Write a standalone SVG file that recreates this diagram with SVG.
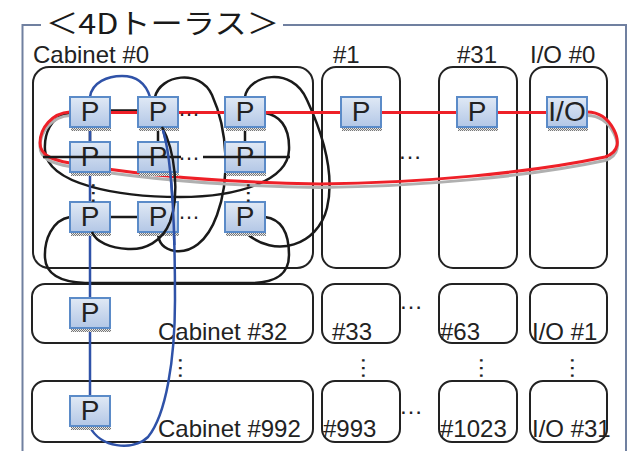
<svg xmlns="http://www.w3.org/2000/svg" xmlns:xlink="http://www.w3.org/1999/xlink" width="628" height="451" viewBox="0 0 628 451">
<defs>
<linearGradient id="pg" x1="0" y1="0" x2="0" y2="1">
<stop offset="0" stop-color="#e0e9f5"/>
<stop offset="1" stop-color="#b3c7e6"/>
</linearGradient>
<pattern id="hatch" width="2" height="2" patternUnits="userSpaceOnUse">
<rect width="2" height="2" fill="#e8e8e8"/>
<rect x="0" y="0" width="1" height="1" fill="#777"/>
<rect x="1" y="1" width="1" height="1" fill="#777"/>
</pattern>
<clipPath id="midclip"><rect x="150" y="130" width="50" height="115"/></clipPath>
<path id="bluepath" d="M 90 97 C 92 82, 108 76, 122 76 C 138 76, 146 84, 150 97 L 162 127 C 170 150, 175 200, 175 300 C 175 360, 166 415, 148 437 C 132 452, 100 447, 90 427 Z"/>
<path id="redpath" d="M 70 112 C 52 113, 40 128, 40 143 C 40 155, 52 160, 70 163 C 120 172, 200 182, 320 184 C 420 183, 530 173, 605 157 C 620 152, 619 140, 614 130 C 608 118, 598 112, 587 112"/>
</defs>
<style>
.frame{fill:none;stroke:#7080a0;stroke-width:2}
.title{font-family:"Noto Sans CJK JP","Noto Sans",sans-serif;font-size:28px;fill:#1a1a1a}
.cab{fill:none;stroke:#222;stroke-width:2}
.lbl{font-family:"Liberation Sans",Arial,sans-serif;font-size:24px;fill:#222}
.pbox{fill:url(#pg);stroke:#5b8bc8;stroke-width:2}
.sh{fill:url(#hatch)}
.pt{font-family:"Liberation Sans",Arial,sans-serif;font-size:28px;fill:#222;text-anchor:middle}
.blk{fill:none;stroke:#1a1a1a;stroke-width:2.5}
.red{fill:none;stroke:#ee2028;stroke-width:3}
.redsh{fill:none;stroke:url(#hatch);stroke-width:3}
.blue{fill:none;stroke:#2f52a8;stroke-width:2.5}
.dots{font-family:"Liberation Sans",Arial,sans-serif;font-size:24px;fill:#222}
.dots2{font-family:"Liberation Sans",Arial,sans-serif;font-size:22px;fill:#222}
</style>
<rect width="628" height="451" fill="#fff"/>
<g id="frame">
<path class="frame" d="M 41 25 H 22.5 V 451 M 283 25 H 626 V 451"/>
<text class="title" x="46" y="34" textLength="233" lengthAdjust="spacingAndGlyphs">＜4Dトーラス＞</text>
</g>
<g id="cabinets">
<g id="cab0"><rect class="cab" x="33" y="67" width="280" height="201" rx="16"/><text class="lbl" x="33" y="63">Cabinet #0</text></g>
<g id="cab1"><rect class="cab" x="322" y="67" width="78" height="201" rx="14"/><text class="lbl" x="333" y="63">#1</text></g>
<g id="cab31"><rect class="cab" x="439" y="67" width="78" height="201" rx="14"/><text class="lbl" x="457" y="63">#31</text></g>
<g id="io0"><rect class="cab" x="530" y="67" width="77" height="201" rx="14"/><text class="lbl" x="530" y="63">I/O #0</text></g>
<g id="cab32"><rect class="cab" x="32" y="284" width="281" height="59" rx="13"/><text class="lbl" x="158" y="340">Cabinet #32</text></g>
<g id="cab33"><rect class="cab" x="322" y="284" width="78" height="59" rx="13"/><text class="lbl" x="332" y="340">#33</text></g>
<g id="cab63"><rect class="cab" x="439" y="284" width="78" height="59" rx="13"/><text class="lbl" x="440" y="340">#63</text></g>
<g id="io1"><rect class="cab" x="530" y="284" width="77" height="59" rx="13"/><text class="lbl" x="532" y="340">I/O #1</text></g>
<g id="cab992"><rect class="cab" x="32" y="381" width="281" height="61" rx="13"/><text class="lbl" x="158" y="437">Cabinet #992</text></g>
<g id="cab993"><rect class="cab" x="322" y="381" width="78" height="61" rx="13"/><text class="lbl" x="323" y="437">#993</text></g>
<g id="cab1023"><rect class="cab" x="439" y="381" width="78" height="61" rx="13"/><text class="lbl" x="440" y="437">#1023</text></g>
<g id="io31"><rect class="cab" x="530" y="381" width="77" height="61" rx="13"/><text class="lbl" x="532" y="437">I/O #31</text></g>
</g>
<g id="connectors">
<path class="blk" d="M 110 110.5 H 138 M 90 127 V 142 M 158 127 V 142 M 245 127 V 142 M 110 217 H 138"/>
<path class="blk" d="M 70 113 C 50 116, 44 135, 45 150 C 47 185, 120 197, 180 197 C 240 197, 288 180, 289 150 C 290 125, 278 115, 265 113"/>
<path class="blk" d="M 70 217 C 52 220, 44 240, 45 258 C 46 275, 62 282, 85 283 L 250 283 C 275 283, 289 275, 289 255 C 289 230, 280 219, 265 217"/>
<path class="blk" d="M 155 97 C 160 75, 200 68, 212 95 C 228 130, 230 180, 217 215 C 207 243, 190 253, 175 251 C 163 249, 158 242, 158 232"/>
<path class="blk" d="M 245 97 C 248 75, 292 65, 307 100 C 320 128, 336 170, 327 208 C 318 245, 275 260, 245 232"/>
<use href="#bluepath" class="blue"/>
<use href="#redpath" class="redsh" transform="translate(0,3.5)"/>
<use href="#redpath" class="red"/>
<path class="red" d="M 110 112.5 H 547"/>
</g>
<g id="nodes">
<g id="p00"><rect class="sh" x="71" y="127" width="40" height="4"/><rect class="pbox" x="70" y="97" width="40" height="30"/><text class="pt" x="90" y="121">P</text></g>
<g id="p01"><rect class="sh" x="139" y="127" width="40" height="4"/><rect class="pbox" x="138" y="97" width="40" height="30"/><text class="pt" x="158" y="121">P</text></g>
<g id="p02"><rect class="sh" x="226" y="127" width="40" height="4"/><rect class="pbox" x="225" y="97" width="40" height="30"/><text class="pt" x="245" y="121">P</text></g>
<g id="p10"><rect class="sh" x="71" y="172" width="40" height="4"/><rect class="pbox" x="70" y="142" width="40" height="30"/><text class="pt" x="90" y="166">P</text></g>
<g id="p11"><rect class="sh" x="139" y="172" width="40" height="4"/><rect class="pbox" x="138" y="142" width="40" height="30"/><text class="pt" x="158" y="166">P</text></g>
<g id="p12"><rect class="sh" x="226" y="172" width="40" height="4"/><rect class="pbox" x="225" y="142" width="40" height="30"/><text class="pt" x="245" y="166">P</text></g>
<g id="p20"><rect class="sh" x="71" y="232" width="40" height="4"/><rect class="pbox" x="70" y="202" width="40" height="30"/><text class="pt" x="90" y="226">P</text></g>
<g id="p21"><rect class="sh" x="139" y="232" width="40" height="4"/><rect class="pbox" x="138" y="202" width="40" height="30"/><text class="pt" x="158" y="226">P</text></g>
<g id="p22"><rect class="sh" x="226" y="232" width="40" height="4"/><rect class="pbox" x="225" y="202" width="40" height="30"/><text class="pt" x="245" y="226">P</text></g>
<g id="p1"><rect class="sh" x="342" y="127" width="40" height="4"/><rect class="pbox" x="341" y="97" width="40" height="30"/><text class="pt" x="361" y="121">P</text></g>
<g id="p31"><rect class="sh" x="458" y="127" width="40" height="4"/><rect class="pbox" x="457" y="97" width="40" height="30"/><text class="pt" x="477" y="121">P</text></g>
<g id="pio0"><rect class="sh" x="548" y="127" width="40" height="4"/><rect class="pbox" x="547" y="97" width="40" height="30"/><text class="pt" x="567" y="121" font-size="27">I/O</text></g>
<g id="p32"><rect class="sh" x="71" y="328" width="40" height="4"/><rect class="pbox" x="70" y="298" width="40" height="30"/><text class="pt" x="90" y="322">P</text></g>
<g id="p992"><rect class="sh" x="71" y="426" width="40" height="4"/><rect class="pbox" x="70" y="396" width="40" height="30"/><text class="pt" x="90" y="420">P</text></g>
</g>
<g id="connectors-over">
<path class="blk" d="M 43 157 H 181 M 203 157 H 290"/>
<path class="blk" d="M 162 127 C 175 150, 180 195, 170 222 C 162 242, 145 250, 128 249 C 110 248, 96 242, 92 232"/>
<use href="#bluepath" class="blue" clip-path="url(#midclip)"/>
</g>
<g id="ellipses">
<text class="dots2" x="178" y="116">…</text>
<text class="dots2" x="178" y="160">…</text>
<text class="dots2" x="178" y="219">…</text>
<text class="dots" x="398" y="159">…</text>
<text class="dots" x="399" y="309">…</text>
<text class="dots" x="399" y="414">…</text>
<text class="dots" transform="translate(91.5,181) rotate(90)">…</text>
<text class="dots" transform="translate(246.5,181) rotate(90)">…</text>
<text class="dots" transform="translate(178.5,356) rotate(90)">…</text>
<text class="dots" transform="translate(361.5,356) rotate(90)">…</text>
<text class="dots" transform="translate(479.5,356) rotate(90)">…</text>
<text class="dots" transform="translate(570.5,356) rotate(90)">…</text>
</g>
</svg>
